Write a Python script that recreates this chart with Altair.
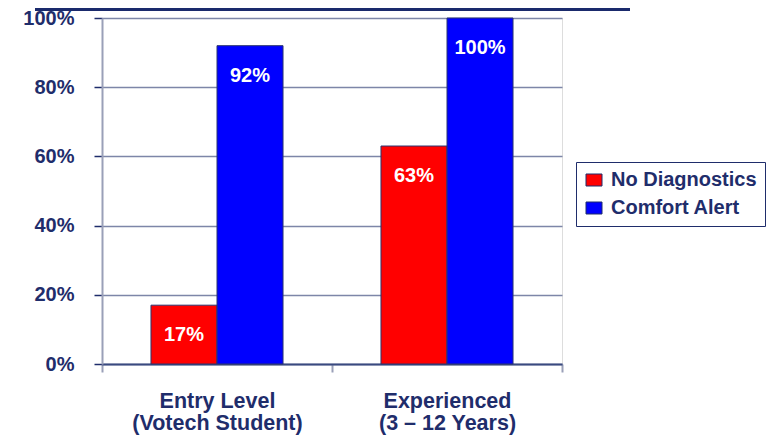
import altair as alt
import pandas as pd

groups = ["Entry Level\n(Votech Student)", "Experienced\n(3 – 12 Years)"]
series = ["No Diagnostics", "Comfort Alert"]
no_diag = [17, 63]
comfort = [92, 100]
y_ticks = [0, 20, 40, 60, 80, 100]
colors = ["#ff0000", "#0000ff"]

rows = []
for i, g in enumerate(groups):
    rows.append({"group": g, "series": series[0], "value": no_diag[i]})
    rows.append({"group": g, "series": series[1], "value": comfort[i]})
df = pd.DataFrame(rows)

NAVY = "#1f2d6b"
FONT = "Liberation Sans"

x = alt.X("group:N", sort=groups, title=None,
          scale=alt.Scale(paddingInner=0, paddingOuter=0),
          axis=alt.Axis(labelExpr="split(datum.label, '\\n')", labelAngle=0,
                        labelFont=FONT, labelFontSize=21.5, labelFontWeight="bold",
                        labelColor=NAVY, labelPadding=18, labelLineHeight=22,
                        labelBaseline="top",
                        tickBand="extent", tickSize=8, tickColor="#9aa0b8", tickWidth=2,
                        domainColor="#3a4a80", domainWidth=2, grid=False))
xo = alt.XOffset("series:N", sort=series,
                 scale=alt.Scale(paddingInner=0, paddingOuter=0.742))
y = alt.Y("value:Q", title=None,
          scale=alt.Scale(domain=[0, 100], nice=False),
          axis=alt.Axis(values=y_ticks, labelExpr="datum.value + '%'",
                        labelFont=FONT, labelFontSize=20, labelFontWeight="bold",
                        labelColor=NAVY, labelPadding=20,
                        tickSize=8, tickColor=NAVY, tickWidth=1.5,
                        domainColor="#9aa0b8", domainWidth=2,
                        gridColor="#7d86a8", gridWidth=1.5))

bars = alt.Chart(df).mark_bar(stroke="#2a3570", strokeWidth=1).encode(
    x=x, xOffset=xo, y=y,
    color=alt.Color("series:N", sort=series, title=None,
                    scale=alt.Scale(domain=series, range=colors),
                    legend=alt.Legend(orient="none", legendX=474, legendY=144,
                                      symbolType="M-1,-0.75H1V0.75H-1Z", symbolSize=256,
                                      symbolStrokeColor=NAVY, symbolStrokeWidth=1,
                                      labelFont=FONT, labelFontSize=20,
                                      labelFontWeight="bold", labelColor=NAVY,
                                      labelOffset=7, rowPadding=8, padding=8,
                                      strokeColor=NAVY, fillColor="white")),
)

labels = alt.Chart(df).transform_calculate(
    lbl="datum.value + '%'"
).mark_text(font=FONT, fontSize=20, fontWeight="bold", color="white",
            baseline="alphabetic", dy=36).encode(
    x=alt.X("group:N", sort=groups), xOffset=xo,
    y=alt.Y("value:Q"), text="lbl:N")

topbar = alt.Chart(df).mark_rule(color="#1a2a6c", strokeWidth=3).encode(
    x=alt.value(-67), x2=alt.value(528), y=alt.value(-8.5))

chart = alt.layer(bars, labels, topbar).properties(
    width=460, height=346,
    autosize=alt.AutoSizeParams(type="none"),
    padding={"left": 94, "top": 10, "right": 208, "bottom": 71},
).configure_view(stroke=None).configure(background="white")

chart.save("out.html", embed_options={"renderer": "svg", "actions": False})
